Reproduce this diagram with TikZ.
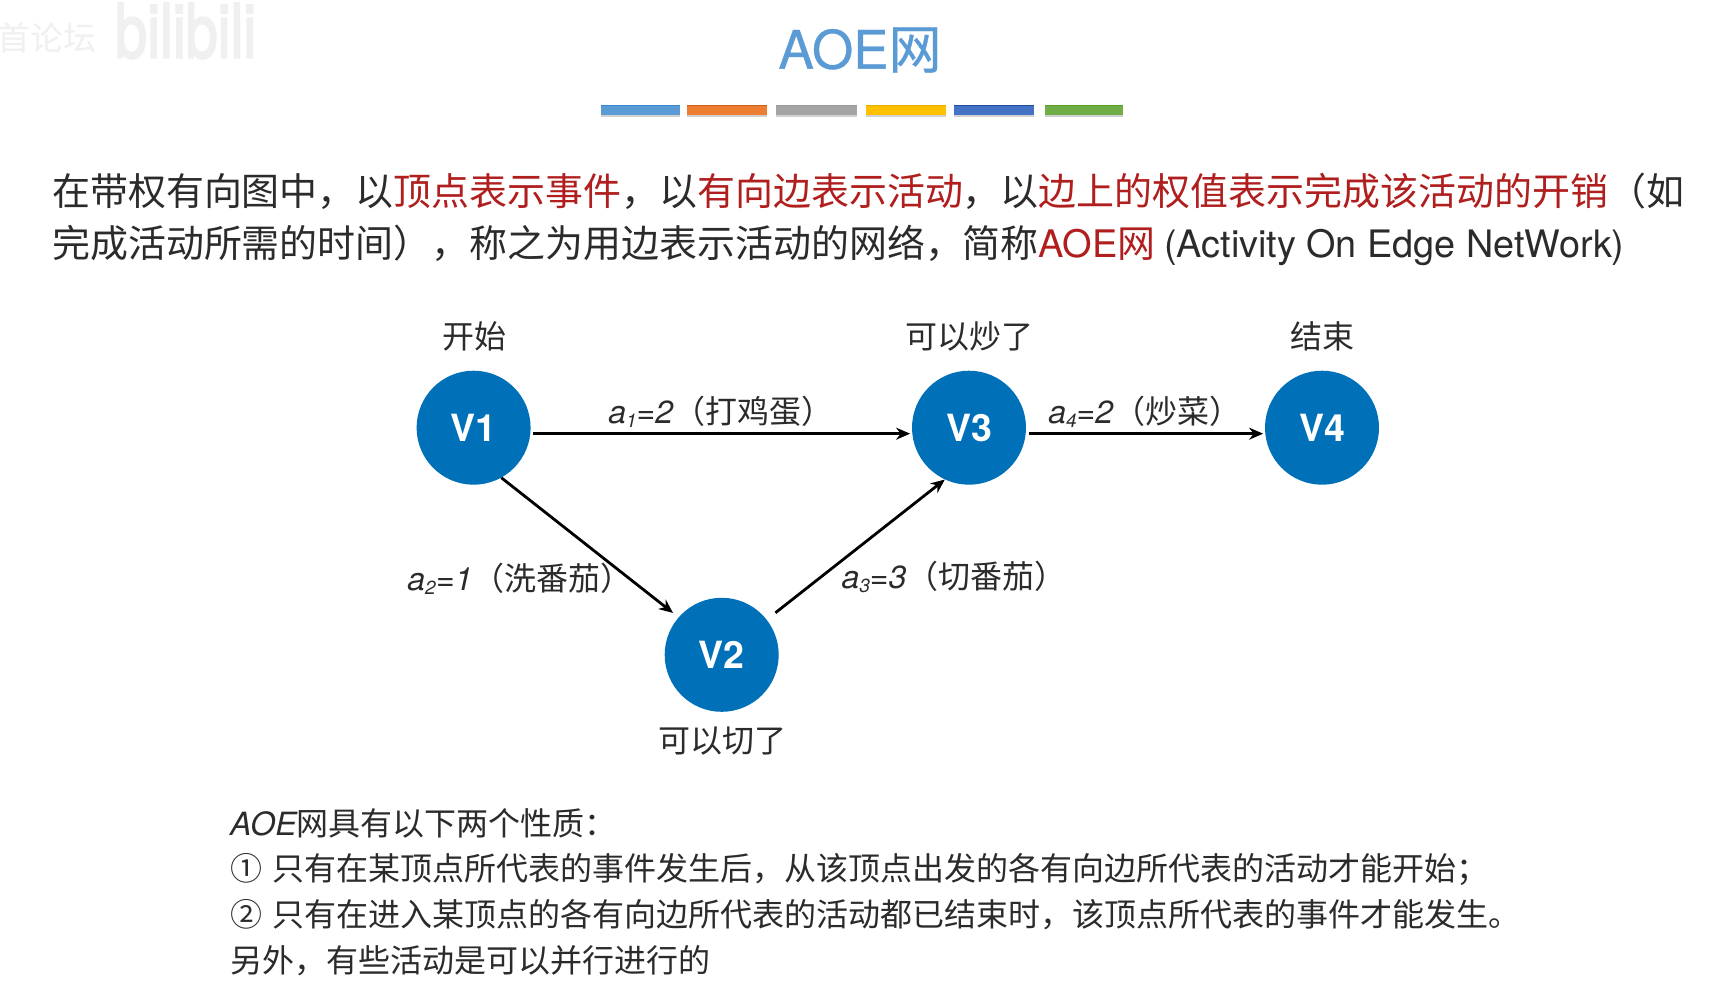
\documentclass[tikz,border=0pt]{standalone}
\usepackage{fontspec}
\setmainfont{TeX Gyre Heros}
\newfontfamily\cjk{Noto Sans CJK SC}
\newfontfamily\titlelatin[FakeBold=0.6]{TeX Gyre Heros}
\newfontfamily\titlecjk[FakeBold=0.6]{Noto Sans CJK SC}
\newfontfamily\wmlatin[FakeBold=3]{TeX Gyre Heros}
\usetikzlibrary{arrows.meta}
\definecolor{ink}{HTML}{2B2B2B}
\definecolor{redink}{HTML}{B01E1E}
\definecolor{vblue}{HTML}{0070B8}
\definecolor{titleblue}{HTML}{5B9BD5}
\newcommand{\zh}[1]{{\cjk #1}}
\newcommand{\red}[1]{\textcolor{redink}{#1}}
\newcommand{\edgelab}[3]{\textit{a}\raisebox{-0.12em}{\fontsize{19}{19}\selectfont\textit{#1}}\textit{=#2}\zh{#3}}
\tikzset{
  vertex/.style={circle,fill=vblue,minimum size=114pt,inner sep=0pt,text=white,font=\fontsize{37.5}{37.5}\selectfont\bfseries},
  para/.style={anchor=west,inner sep=0pt,text=ink,font=\fontsize{37.95}{38}\selectfont\cjk},
  smalltext/.style={anchor=west,inner sep=0pt,text=ink,font=\fontsize{32}{32}\selectfont\cjk},
  caption/.style={inner sep=0pt,text=ink,font=\fontsize{32}{32}\selectfont\cjk},
  elabel/.style={inner sep=0pt,text=ink,font=\fontsize{32}{32}\selectfont},
  link/.style={line width=2.8pt,draw=black,-{Stealth[length=14pt,width=12pt]}},
  barshadow/.style={fill=black,opacity=.18},
  wmark/.style={inner sep=0pt,text=black!6,anchor=west}
}
\begin{document}
\begin{tikzpicture}[x=1pt,y=-1pt]
\useasboundingbox (0,0) rectangle (1733,987);
\fill[white] (0,0) rectangle (1733,987);
% watermark
\node[wmark,font=\fontsize{33}{33}\selectfont\cjk] (wm1) at (-3,38) {首论坛};
\node[wmark,font=\fontsize{62}{62}\selectfont\wmlatin,xscale=.93,yscale=1.2] (wm2) at (115,31) {bilibili};
% title
\node[inner sep=0pt,text=titleblue,font=\fontsize{53}{53}\selectfont] (title) at (860,50) {{\titlelatin AOE}{\titlecjk 网}};
% colour bars
\foreach \xa/\xb/\c/\e in {601/680/5B9BD5/3A86D0,686.5/767/ED7D31/C9601A,776/857/A5A5A5/999999,866/946/FFC000/E8AE00,953.5/1034/4472C4/1F4E9C,1044.6/1123/70AD47/55A020}{
  \definecolor{cc}{HTML}{\c}\definecolor{ee}{HTML}{\e}
  \fill[barshadow] (\xa,114) rectangle (\xb,117.5);
  \fill[cc] (\xa,105) rectangle (\xb,115);
  \fill[ee] (\xa,105) rectangle (\xb,106.5);
}
% paragraph
\node[para] (p1) at (52,191) {在带权有向图中，以\red{顶点表示事件}，以\red{有向边表示活动}，以\red{边上的权值表示完成该活动的开销}（如};
\node[para] (p2) at (52,245) {完成活动所需的时间），称之为用边表示活动的网络，简称\red{{\fontspec{TeX Gyre Heros}AOE}网} {\fontspec{TeX Gyre Heros}\fontsize{37.8}{38}\selectfont (Activity On Edge NetWork)}};
% vertices
\node[vertex] (V1) at (473.6,427.7) {V1};
\node[vertex] (V2) at (721.7,654.8) {V2};
\node[vertex] (V3) at (969,427.7) {V3};
\node[vertex] (V4) at (1322,427.7) {V4};
% vertex captions
\node[caption] (c1) at (474,336) {开始};
\node[caption] (c3) at (969,336) {可以炒了};
\node[caption] (c4) at (1322,336) {结束};
\node[caption] (c2) at (722,741) {可以切了};
% connectors
\draw[link,shorten <=3pt,shorten >=2pt] (V1.-6.5) -- (V3.186.5);
\draw[link,shorten >=7pt] (V1.-61.4) -- (V2.139.4);
\draw[link,shorten <=11pt] (V2.38.8) -- (V3.245.6);
\draw[link,shorten <=3pt,shorten >=2pt] (V3.-6.5) -- (V4.186.5);
% connector labels
\node[elabel] (l1) at (721,412) {\edgelab{1}{2}{（打鸡蛋）}};
\node[elabel] (l2) at (520,579) {\edgelab{2}{1}{（洗番茄）}};
\node[elabel] (l3) at (954,577) {\edgelab{3}{3}{（切番茄）}};
\node[elabel] (l4) at (1145,412) {\edgelab{4}{2}{（炒菜）}};
% notes
\node[smalltext] (n1) at (230,823) {{\fontspec{TeX Gyre Heros}\itshape AOE}网具有以下两个性质：};
\node[smalltext] (n2) at (230,870) {①\hspace{10pt}只有在某顶点所代表的事件发生后，从该顶点出发的各有向边所代表的活动才能开始；};
\node[smalltext] (n3) at (230,915) {②\hspace{10pt}只有在进入某顶点的各有向边所代表的活动都已结束时，该顶点所代表的事件才能发生。};
\node[smalltext] (n4) at (230,961) {另外，有些活动是可以并行进行的};
\end{tikzpicture}
\end{document}
